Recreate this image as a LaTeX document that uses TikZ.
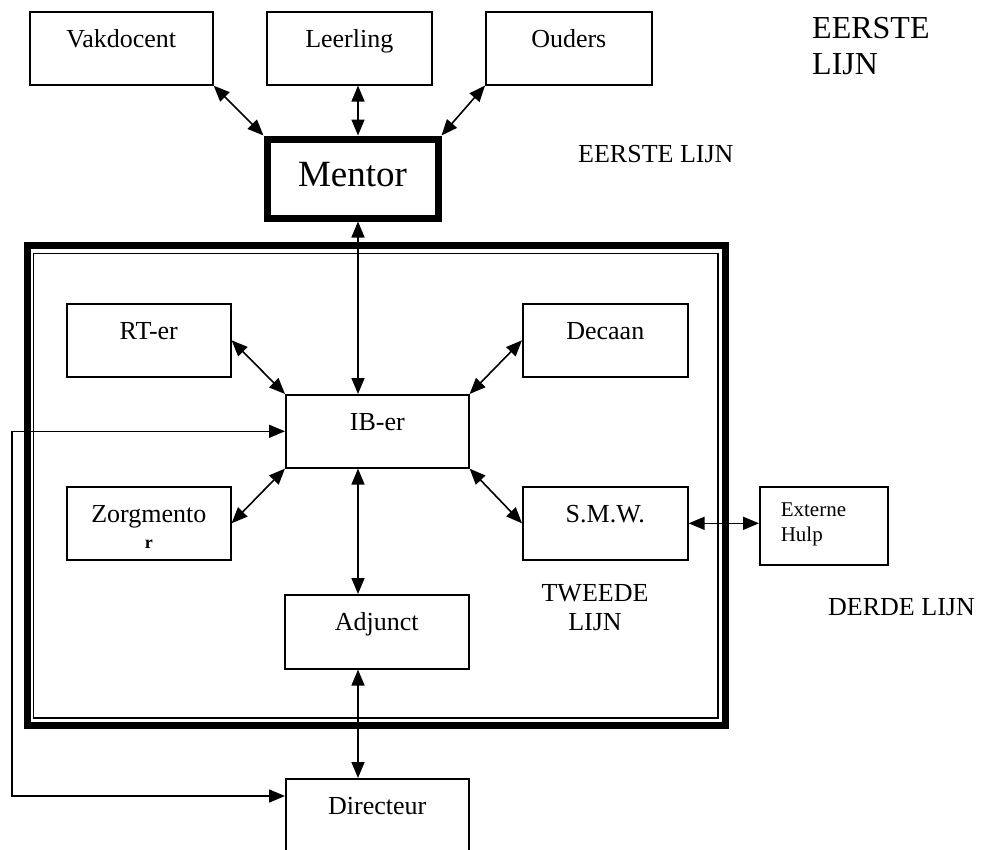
\documentclass[tikz,border=0pt]{standalone}
\usepackage{fontspec}
\setmainfont{Liberation Serif}
\usetikzlibrary{arrows.meta}
\begin{document}
\begin{tikzpicture}[x=1pt,y=-1pt,
  box/.style={draw, line width=1.6pt, inner sep=0pt, align=center,
    font=\fontsize{26}{26}\selectfont, text height=36pt, anchor=north west},
  dbl/.style={line width=1.6pt,
    {Triangle[length=16pt,width=13pt]}-{Triangle[length=16pt,width=13pt]}},
  lbl/.style={inner sep=0pt, font=\fontsize{26}{29}\selectfont}]
\useasboundingbox (0,0) rectangle (984,849);

% frame (tweede lijn)
\draw[line width=7pt] (27,245.5) rectangle (725.3,725.3);
\draw[line width=1.9pt] (33.5,253.5) rectangle (718,718);

% top row
\node[box, text width=183pt, text depth=37pt] (vak) at (29,11) {Vakdocent};
\node[box, text width=165pt, text depth=37pt] (leer) at (266,11) {Leerling};
\node[box, text width=166pt, text depth=37pt] (oud) at (485,11) {Ouders};

% mentor
\node[box, line width=7pt, text width=171pt, text height=47.5pt, text depth=31.5pt,
  font=\fontsize{37}{40}\selectfont] (mentor) at (263.5,135.5) {Mentor};

% inner boxes
\node[box, text width=164pt, text depth=37pt] (rt) at (66,303) {RT-er};
\node[box, text width=165pt, text depth=37pt] (dec) at (522,303) {Decaan};
\node[box, text width=183pt, text depth=37pt] (ib) at (285,394) {IB-er};
\node[box, text width=164pt, text depth=37pt] (zorg) at (66,486)
  {Zorgmento\\{\bfseries\fontsize{18}{26}\selectfont r}};
\node[box, text width=165pt, text depth=37pt] (smw) at (522,486) {S.M.W.};
\node[box, text width=184pt, text depth=38pt] (adj) at (284,594) {Adjunct};
\node[box, text width=183pt, text depth=37pt] (dir) at (285,778) {Directeur};
\node[box, align=left, text width=128pt, text height=30pt, text depth=48pt,
  font=\fontsize{21}{25}\selectfont] (ext) at (759,486)
  {\hspace*{21pt}Externe\\\hspace*{21pt}Hulp};

% labels
\node[lbl, anchor=north west, align=left, text width=160pt, text height=38pt,
  font=\fontsize{32}{36}\selectfont] (l1) at (812,0) {EERSTE\\LIJN};
\node[lbl, anchor=base west] (l2) at (578,162) {EERSTE LIJN};
\node[lbl, anchor=north, align=center, text width=140pt, text height=30pt] (l3)
  at (595,571) {TWEEDE\\LIJN};
\node[lbl, anchor=base west] (l4) at (828,615) {DERDE LIJN};

% helper coordinates
\coordinate (vx) at (358,0);
\coordinate (lx) at (12,796);

% connectors
\draw[dbl] (vak.south east) -- (mentor.north west);
\draw[dbl] (leer.south -| vx) -- (mentor.north -| vx);
\draw[dbl] (oud.south west) -- (mentor.north east);
\draw[dbl] (mentor.south -| vx) -- (ib.north -| vx);
\draw[dbl] (rt.east) -- (ib.north west);
\draw[dbl] (dec.west) -- (ib.north east);
\draw[dbl] (zorg.east) -- (ib.south west);
\draw[dbl] (smw.west) -- (ib.south east);
\draw[dbl] (ib.south -| vx) -- (adj.north -| vx);
\draw[dbl] (adj.south -| vx) -- (dir.north -| vx);
\draw[dbl] (smw.east) -- (smw.east -| ext.west);
\draw[dbl] (ib.west) -- (ib.west -| lx) -- (lx) -- (lx -| dir.west);
\end{tikzpicture}
\end{document}
